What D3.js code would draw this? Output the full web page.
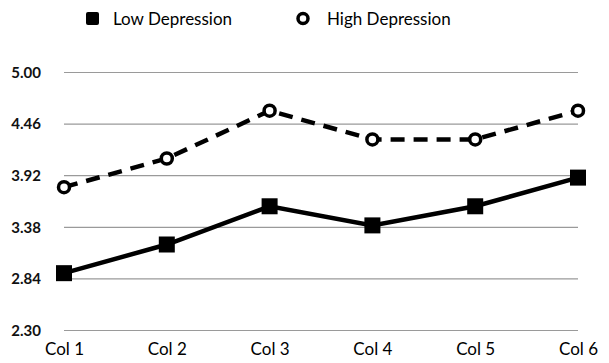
<!DOCTYPE html>
<html><head><meta charset="utf-8">
<script src="https://cdn.jsdelivr.net/npm/d3@7"></script>
<style>body{margin:0;background:#fff}svg{display:block}text{font-family:Lato,"Open Sans",sans-serif}</style>
</head><body><svg id="c" width="609" height="363"></svg>
<script>
const categories = ["Col 1","Col 2","Col 3","Col 4","Col 5","Col 6"];
const lowDepression = [2.90, 3.20, 3.60, 3.40, 3.60, 3.90];
const highDepression = [3.80, 4.10, 4.60, 4.30, 4.30, 4.60];
const yTicks = [2.30, 2.84, 3.38, 3.92, 4.46, 5.00];
const seriesNames = ["Low Depression", "High Depression"];

const svg = d3.select("#c");
const x = d3.scalePoint().domain(categories).range([64, 578]);
const y = d3.scaleLinear().domain([2.30, 5.00]).range([330.5, 72.5]);

// gridlines
svg.append("g").selectAll("line").data(yTicks).join("line")
  .attr("x1", 64).attr("x2", 578)
  .attr("y1", d => y(d)).attr("y2", d => y(d))
  .attr("stroke", "#9a9a9a").attr("stroke-width", 1.2);

// y axis labels
const yAxis = d3.axisLeft(y).tickValues(yTicks).tickFormat(d3.format(".2f")).tickSize(0).tickPadding(0);
const ya = svg.append("g").attr("transform", "translate(41,0)").call(yAxis);
ya.select(".domain").remove();
ya.selectAll("text").attr("font-size", 15).attr("font-weight", 700).attr("fill", "#111").attr("font-family", "Lato,sans-serif");

// x axis labels
const xAxis = d3.axisBottom(x).tickSize(0).tickPadding(0);
const xa = svg.append("g").attr("transform", "translate(0,343)").call(xAxis);
xa.select(".domain").remove();
xa.selectAll("text").attr("font-size", 17).attr("fill", "#000").attr("font-family", "Lato,sans-serif");

const line = d3.line().x((d, i) => x(categories[i])).y(d => y(d));

// high depression dashed
svg.append("path").datum(highDepression).attr("d", line)
  .attr("fill", "none").attr("stroke", "#000").attr("stroke-width", 4.5)
  .attr("stroke-dasharray", "14,9");
// low depression solid
svg.append("path").datum(lowDepression).attr("d", line)
  .attr("fill", "none").attr("stroke", "#000").attr("stroke-width", 4.5);

// markers
svg.append("g").selectAll("rect").data(lowDepression).join("rect")
  .attr("x", (d, i) => x(categories[i]) - 8).attr("y", d => y(d) - 8)
  .attr("width", 16).attr("height", 16).attr("fill", "#000");
svg.append("g").selectAll("circle").data(highDepression).join("circle")
  .attr("cx", (d, i) => x(categories[i])).attr("cy", d => y(d)).attr("r", 5.5)
  .attr("fill", "#fff").attr("stroke", "#000").attr("stroke-width", 3.5);

// legend
const lg = svg.append("g");
lg.append("rect").attr("x", 86).attr("y", 12).attr("width", 13).attr("height", 13).attr("rx", 2).attr("fill", "#000");
lg.append("text").attr("x", 113).attr("y", 25).attr("font-size", 17).attr("fill", "#000").text(seriesNames[0]);
lg.append("circle").attr("cx", 303).attr("cy", 18.5).attr("r", 5).attr("fill", "#fff").attr("stroke", "#000").attr("stroke-width", 3.5);
lg.append("text").attr("x", 327).attr("y", 25).attr("font-size", 17).attr("fill", "#000").text(seriesNames[1]);
</script></body></html>
